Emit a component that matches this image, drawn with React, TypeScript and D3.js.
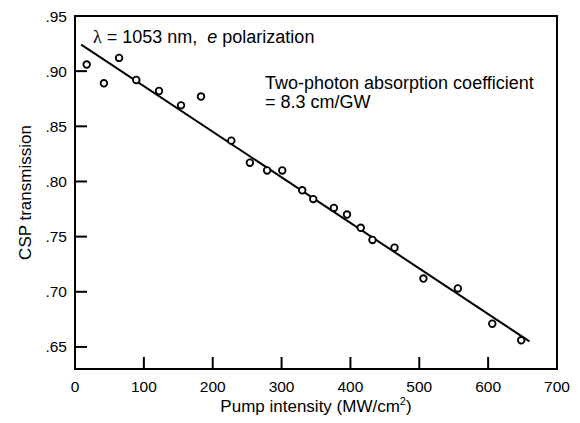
import React from "react";
import * as d3 from "d3";

const pumpIntensity = [17, 42, 64, 89, 122, 154, 183, 227, 254, 279, 301, 330, 346, 376, 395, 415, 432, 464, 506, 556, 606, 648];
const transmission = [0.906, 0.889, 0.912, 0.892, 0.882, 0.869, 0.877, 0.837, 0.817, 0.810, 0.810, 0.792, 0.784, 0.776, 0.770, 0.758, 0.747, 0.740, 0.712, 0.703, 0.671, 0.656];
const fitX = [9, 660];
const fitY = [0.924, 0.655];
const xTicks = [0, 100, 200, 300, 400, 500, 600, 700];
const yTicks = [0.65, 0.7, 0.75, 0.8, 0.85, 0.9, 0.95];

const W = 580;
const H = 423;
const left = 75;
const right = 557;
const top = 16;
const bottom = 369;
const FONT = "'Liberation Sans', Arial, Helvetica, sans-serif";

export default function App() {
  const x = d3.scaleLinear().domain([0, 700]).range([left, right]);
  const y = d3.scaleLinear().domain([0.63, 0.95]).range([bottom, top]);
  const line = d3
    .line<number>()
    .x((d, i) => x(fitX[i]))
    .y((d) => y(d));
  const fmtY = (v: number) => d3.format(".2f")(v).replace(/^0/, "");

  return (
    <svg
      width={W}
      height={H}
      viewBox={`0 0 ${W} ${H}`}
      style={{ position: "absolute", left: 0, top: 0, background: "#fff" }}
      fontFamily={FONT}
    >
      <rect x={0} y={0} width={W} height={H} fill="#fff" />
      {/* ticks */}
      {yTicks.filter((t) => t < 0.95).map((t) => (
        <line key={"yt" + t} x1={left} x2={left + 12} y1={y(t)} y2={y(t)} stroke="#000" strokeWidth={2} />
      ))}
      {xTicks.filter((t) => t > 0 && t < 700).map((t) => (
        <line key={"xt" + t} x1={x(t)} x2={x(t)} y1={bottom} y2={bottom - 12} stroke="#000" strokeWidth={2} />
      ))}
      {/* frame */}
      <rect x={left} y={top} width={right - left} height={bottom - top} fill="none" stroke="#000" strokeWidth={2} />
      {/* tick labels */}
      {yTicks.map((t) => (
        <text key={"yl" + t} x={left - 8} y={y(t) + 5.5} textAnchor="end" fontSize={15.5} fill="#000">
          {fmtY(t)}
        </text>
      ))}
      {xTicks.map((t) => (
        <text key={"xl" + t} x={x(t)} y={392} textAnchor="middle" fontSize={15.5} fill="#000">
          {t}
        </text>
      ))}
      {/* fit line */}
      <path d={line(fitY) || ""} fill="none" stroke="#000" strokeWidth={2} />
      {/* points */}
      {pumpIntensity.map((v, i) => (
        <circle key={"p" + i} cx={x(v)} cy={y(transmission[i])} r={3.3} fill="#fff" stroke="#000" strokeWidth={1.8} />
      ))}
      {/* axis titles */}
      <text x={(left + right) / 2} y={412} textAnchor="middle" fontSize={17} fill="#000">
        Pump intensity (MW/cm
        <tspan fontSize={11} dy={-7}>2</tspan>
        <tspan dy={7}>)</tspan>
      </text>
      <text
        transform={`translate(31, ${(top + bottom) / 2}) rotate(-90)`}
        textAnchor="middle"
        fontSize={17}
        fill="#000"
      >
        CSP transmission
      </text>
      {/* annotations */}
      <text x={93} y={43} fontSize={18} fill="#000">
        <tspan fontFamily="'Liberation Serif', 'Times New Roman', serif">λ</tspan>
        {" = 1053 nm,\u00a0 "}
        <tspan fontStyle="italic">e</tspan>
        {" polarization"}
      </text>
      <text x={265} y={89} fontSize={18} fill="#000">
        Two-photon absorption coefficient
      </text>
      <text x={265} y={108} fontSize={18} fill="#000">
        = 8.3 cm/GW
      </text>
    </svg>
  );
}
